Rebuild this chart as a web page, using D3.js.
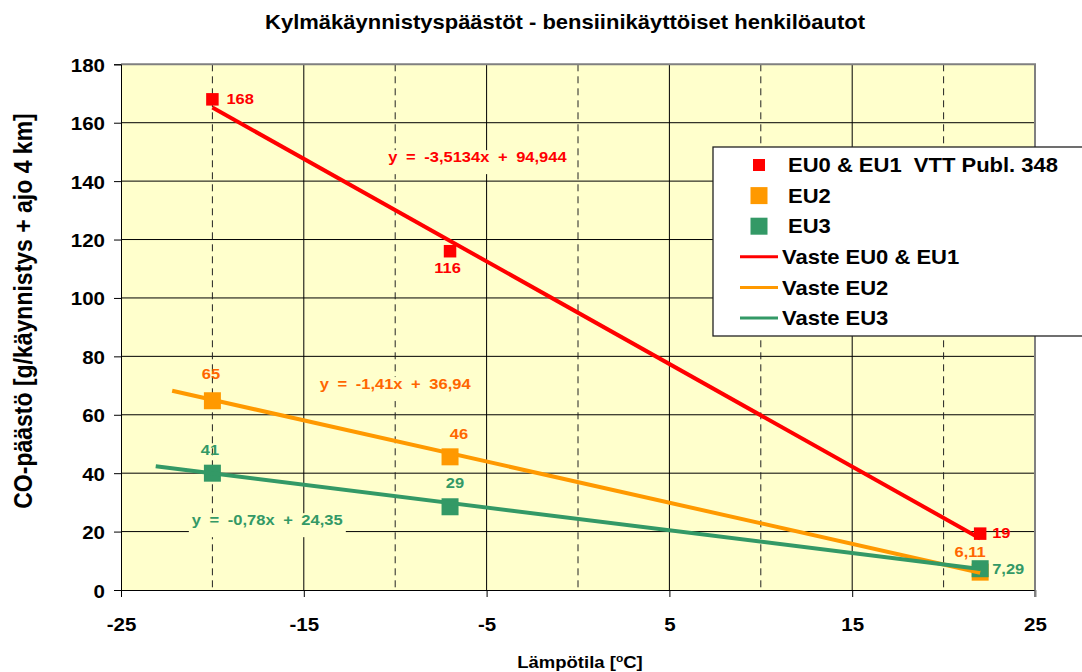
<!DOCTYPE html>
<html>
<head>
<meta charset="utf-8">
<script src="https://cdn.jsdelivr.net/npm/d3@7"></script>
<style>
  body { margin: 0; background: #fff; }
  svg { display: block; font-family: "Liberation Sans", Arial, sans-serif; font-weight: bold; }
  text { white-space: pre; }
</style>
</head>
<body>
<svg id="chart" width="1082" height="672"></svg>
<script>
// data
const tempX = [-20, -7, 22];
const coEU01 = [168, 116, 19.3];
const coEU2 = [64.8, 45.6, 6.11];
const coEU3 = [40, 28.5, 7.29];
const labelsEU01 = ["168", "116", "19"];
const labelsEU2 = ["65", "46", "6,11"];
const labelsEU3 = ["41", "29", "7,29"];
const trendSlope = [-3.5134, -1.41, -0.78];
const trendIntercept = [94.944, 36.94, 24.35];
const trendFrom = [-20, -22.2, -23.1];
const trendTo = [22, 22, 22];
const trendText = ["y = -3,5134x + 94,944", "y = -1,41x + 36,94", "y = -0,78x + 24,35"];
const markerNames = ["EU0 & EU1  VTT Publ. 348", "EU2", "EU3"];
const lineNames = ["Vaste EU0 & EU1", "Vaste EU2", "Vaste EU3"];
const xTicks = [-25, -15, -5, 5, 15, 25];
const xMinor = [-20, -10, 0, 10, 20];
const yTicks = [0, 20, 40, 60, 80, 100, 120, 140, 160, 180];

const SQ = 0.92; // the picture is slightly squashed vertically
const colors = ["#ff0000", "#ff9900", "#339966"];
const labelColors = ["#ff0000", "#ff6600", "#339966"];
const markerSize = [12.5, 17, 17];

const svg = d3.select("#chart");
const pLeft = 121, pRight = 1035, pTop = 64.3, pBottom = 590;
const x = d3.scaleLinear().domain([-25, 25]).range([pLeft, pRight]);
const y = d3.scaleLinear().domain([0, 180]).range([pBottom, pTop]);

function txt(g, px, py, s, size, fill, anchor = "start") {
    return g.append("text")
        .attr("transform", `translate(${px},${py}) scale(1,${SQ})`)
        .attr("font-size", size)
        .attr("fill", fill)
        .attr("text-anchor", anchor)
        .text(s);
}

// plot area
svg.append("rect")
    .attr("x", pLeft).attr("y", pTop)
    .attr("width", pRight - pLeft).attr("height", pBottom - pTop)
    .attr("fill", "#ffffcc");

// gridlines
const grid = svg.append("g");
grid.selectAll(".hg").data(yTicks.slice(1, -1)).join("line")
    .attr("x1", pLeft).attr("x2", pRight)
    .attr("y1", d => y(d)).attr("y2", d => y(d))
    .attr("stroke", "#000").attr("stroke-width", 1);
grid.selectAll(".vg").data(xTicks.slice(1, -1)).join("line")
    .attr("class", "vg")
    .attr("x1", d => x(d)).attr("x2", d => x(d))
    .attr("y1", pTop).attr("y2", pBottom)
    .attr("stroke", "#000").attr("stroke-width", 1);
grid.selectAll(".vm").data(xMinor).join("line")
    .attr("class", "vm")
    .attr("x1", d => x(d)).attr("x2", d => x(d))
    .attr("y1", pTop).attr("y2", pBottom)
    .attr("stroke", "#222").attr("stroke-width", 1)
    .attr("stroke-dasharray", "7,5");

// plot border (top / right)
svg.append("path")
    .attr("d", `M${pLeft},${pTop}H${pRight}V${pBottom + 7}`)
    .attr("fill", "none").attr("stroke", "#808080").attr("stroke-width", 2);

// axes
const xAxis = svg.append("g")
    .attr("transform", `translate(0,${pBottom})`)
    .call(d3.axisBottom(x).tickValues(xTicks).tickSize(7).tickFormat(d => String(d)));
const yAxis = svg.append("g")
    .attr("transform", `translate(${pLeft},0)`)
    .call(d3.axisLeft(y).tickValues(yTicks).tickSize(7).tickFormat(d => String(d)));
[xAxis, yAxis].forEach(a => {
    a.select(".domain").attr("stroke", "#000");
    a.selectAll(".tick line").attr("stroke", "#000");
    a.selectAll("text")
        .attr("font-family", "Liberation Sans, Arial, sans-serif")
        .attr("font-weight", "bold")
        .attr("font-size", 20.5)
        .attr("fill", "#000")
        .attr("dy", 0).attr("y", 0).attr("x", 0);
});
xAxis.selectAll("text").attr("transform", `translate(0,41) scale(1,${SQ})`);
yAxis.selectAll("text").attr("transform", `translate(-16,7) scale(1,${SQ})`);
xAxis.select(".tick:last-of-type line").attr("stroke", "#808080").attr("stroke-width", 2);

// series data
const series = [coEU01, coEU2, coEU3].map((vals, i) => ({
    i, pts: tempX.map((t, j) => ({t, v: vals[j], label: [labelsEU01, labelsEU2, labelsEU3][i][j]}))
}));

// markers
series.forEach(s => {
    const m = markerSize[s.i];
    svg.append("g").selectAll("rect").data(s.pts).join("rect")
        .attr("x", d => x(d.t) - m / 2).attr("y", d => y(d.v) - m / 2)
        .attr("width", m).attr("height", m)
        .attr("fill", colors[s.i]);
});

// trendlines
const line = d3.line().x(d => x(d[0])).y(d => y(d[1]));
trendSlope.forEach((k, i) => {
    const ends = [trendFrom[i], trendTo[i]].map(t => [t, k * t + trendIntercept[i]]);
    svg.append("path").attr("d", line(ends))
        .attr("fill", "none").attr("stroke", colors[i]).attr("stroke-width", 4);
});

// data labels, offsets in px from the marker centre (anchor, dx, dy)
const place = [
    [["start", 14, 5], ["middle", -2.5, 22], ["start", 12, 4.5]],
    [["middle", -1.5, -21.5], ["middle", 9, -18], ["middle", -10, -15]],
    [["middle", -2.5, -18], ["middle", 5, -18.5], ["start", 12, 5.3]]
];
const labels = svg.append("g");
series.forEach(s => {
    s.pts.forEach((d, j) => {
        const [anchor, dx, dy] = place[s.i][j];
        txt(labels, x(d.t) + dx, y(d.v) + dy, d.label, 16.5, labelColors[s.i], anchor);
    });
});

// trendline equations with plot-coloured boxes
const eqAt = [[-5.5, 146.5], [-10, 68.8], [-17, 22.2]];
trendText.forEach((s, i) => {
    const g = svg.append("g");
    const t = txt(g, x(eqAt[i][0]), y(eqAt[i][1]), s, 16.5, labelColors[i], "middle")
        .attr("word-spacing", 4);
    const bb = t.node().getBBox();
    const cx = x(eqAt[i][0]), cy = y(eqAt[i][1]);
    g.insert("rect", "text")
        .attr("x", cx + bb.x - 3).attr("y", cy - 12)
        .attr("width", bb.width + 6).attr("height", 24)
        .attr("fill", "#ffffcc");
});

// legend
const lg = svg.append("g");
lg.append("rect")
    .attr("x", 713).attr("y", 147).attr("width", 380).attr("height", 189)
    .attr("fill", "#fff").attr("stroke", "#222").attr("stroke-width", 1.3);
const rowY = i => 165 + i * 30.6;
markerNames.forEach((n, i) => {
    const m = i === 0 ? 12 : 17;
    lg.append("rect").attr("x", 759 - m / 2).attr("y", rowY(i) - m / 2)
        .attr("width", m).attr("height", m).attr("fill", colors[i]);
    txt(lg, 788, rowY(i) + 7.2, n, 22, "#000");
});
lineNames.forEach((n, i) => {
    const yy = rowY(i + 3);
    lg.append("line").attr("x1", 740).attr("x2", 778).attr("y1", yy).attr("y2", yy)
        .attr("stroke", colors[i]).attr("stroke-width", 3);
    txt(lg, 782, yy + 7.2, n, 22, "#000");
});

// titles
txt(svg, 565, 29, "Kylmäkäynnistyspäästöt - bensiinikäyttöiset henkilöautot", 22, "#000", "middle");
const xt = txt(svg, 580, 668, "", 18.5, "#000", "middle");
xt.append("tspan").text("Lämpötila [");
xt.append("tspan").attr("font-size", 12).attr("dy", -7).text("o");
xt.append("tspan").attr("dy", 7).text("C]");
svg.append("text")
    .attr("transform", `translate(31.5,311) rotate(-90) scale(${SQ},1)`)
    .attr("font-size", 25).attr("text-anchor", "middle").attr("fill", "#000")
    .text("CO-päästö [g/käynnistys + ajo 4 km]");
</script>
</body>
</html>
